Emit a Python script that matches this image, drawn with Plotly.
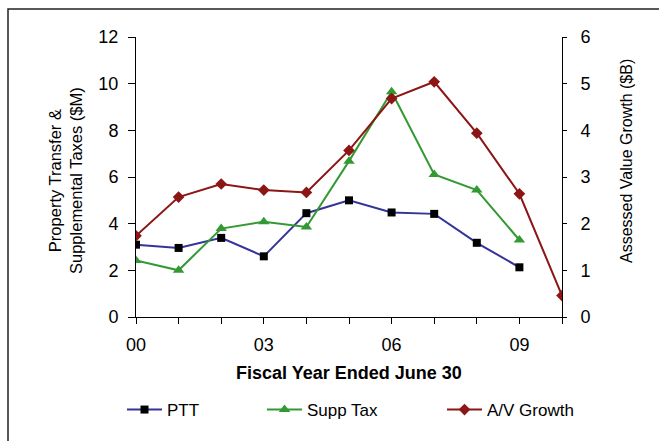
import plotly.graph_objects as go

# Fiscal years (two-digit labels) and series values
years = ["00", "01", "02", "03", "04", "05", "06", "07", "08", "09", "10"]
tick_labels = ["00", "", "", "03", "", "", "06", "", "", "09", ""]

ptt = [3.1, 2.96, 3.39, 2.6, 4.45, 5.0, 4.48, 4.42, 3.18, 2.13]          # $M
supp_tax = [2.42, 2.0, 3.79, 4.08, 3.86, 6.68, 9.65, 6.11, 5.44, 3.3]     # $M
av_growth = [1.74, 2.57, 2.85, 2.72, 2.67, 3.57, 4.68, 5.04, 3.94, 2.64, 0.46]  # $B

W, H = 659, 441
L, R, T, B = 136, 97, 37, 124
PW, PH = W - L - R, H - T - B

FONT = "Liberation Sans, Arial, sans-serif"
NAVY, GREEN, DARKRED = "#333399", "#339933", "#8C1515"


def px_x(p):
    return (p - L) / PW


def px_y(p):
    return 1 - (p - T) / PH


fig = go.Figure()

fig.add_trace(go.Scatter(
    x=years[:len(ptt)], y=ptt, name="PTT", mode="lines+markers",
    line=dict(color=NAVY, width=2),
    marker=dict(symbol="square", size=8, color="black"),
    legend="legend",
))
fig.add_trace(go.Scatter(
    x=years[:len(supp_tax)], y=supp_tax, name="Supp Tax", mode="lines+markers",
    line=dict(color=GREEN, width=2),
    marker=dict(symbol="triangle-up", size=10, color=GREEN),
    legend="legend2",
))
fig.add_trace(go.Scatter(
    x=years, y=av_growth, name="A/V Growth", mode="lines+markers",
    line=dict(color=DARKRED, width=2),
    marker=dict(symbol="diamond", size=9, color=DARKRED),
    yaxis="y2", legend="legend3",
))

axis_common = dict(
    showgrid=False, zeroline=False, showline=True, linecolor="black", linewidth=1,
    tickcolor="black", tickwidth=1,
    tickfont=dict(family=FONT, size=18, color="black"),
)

legend_common = dict(
    orientation="h", xref="container", yref="container",
    xanchor="left", yanchor="middle", bgcolor="rgba(0,0,0,0)",
    itemwidth=35,
    font=dict(family=FONT, size=17, color="black"),
)

fig.update_layout(
    width=W, height=H,
    margin=dict(l=L, r=R, t=T, b=B),
    paper_bgcolor="white", plot_bgcolor="white",
    xaxis=dict(
        type="category", categoryorder="array", categoryarray=years,
        range=[0, len(years) - 1],
        tickmode="array", tickvals=years, ticktext=tick_labels,
        ticks="outside", ticklen=6, ticklabelstandoff=5,
        **axis_common,
    ),
    yaxis=dict(
        range=[0, 12], dtick=2, ticks="outside", ticklen=7,
        ticklabelstandoff=6,
        **axis_common,
    ),
    yaxis2=dict(
        range=[0, 6], dtick=1, overlaying="y", side="right", anchor="x",
        ticks="outside", ticklen=4, ticklabelstandoff=10,
        **axis_common,
    ),
    yaxis3=dict(
        range=[0, 6], dtick=1, overlaying="y", side="right", anchor="x",
        ticks="inside", ticklen=4, showticklabels=False, showline=False,
        showgrid=False, zeroline=False, tickcolor="black",
    ),
    legend=dict(x=122 / W, y=1 - 410 / H, **legend_common),
    legend2=dict(x=262 / W, y=1 - 410 / H, **legend_common),
    legend3=dict(x=442 / W, y=1 - 410 / H, **legend_common),
    showlegend=True,
)

annotations = [
    dict(text="<b>Fiscal Year Ended June 30</b>", x=px_x(349), y=px_y(373),
         font=dict(family=FONT, size=18, color="black"), textangle=0),
    dict(text="Property Transfer &amp;<br>Supplemental Taxes ($M)",
         x=px_x(65), y=px_y(181),
         font=dict(family=FONT, size=16.5, color="black"), textangle=-90),
    dict(text="Assessed Value Growth ($B)", x=px_x(626), y=px_y(161),
         font=dict(family=FONT, size=16, color="black"), textangle=-90),
]
for a in annotations:
    fig.add_annotation(xref="paper", yref="paper", showarrow=False,
                       xanchor="center", yanchor="middle", **a)

# outer frame around the chart area
fig.add_shape(type="rect", xref="paper", yref="paper",
              x0=px_x(8), y0=px_y(460), x1=px_x(680), y1=px_y(9),
              line=dict(color="#222222", width=1.5), layer="below")

fig.write_html("out.html")
